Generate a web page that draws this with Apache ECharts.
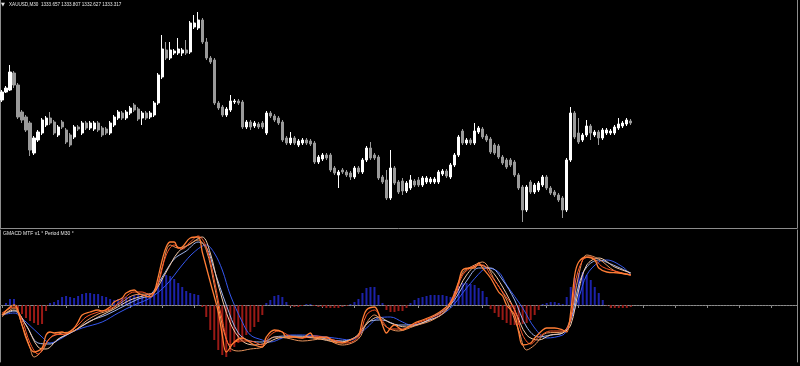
<!DOCTYPE html>
<html><head><meta charset="utf-8">
<script src="https://cdn.jsdelivr.net/npm/echarts@6/dist/echarts.min.js"></script>
<style>html,body{margin:0;padding:0;background:#000;}#c{width:800px;height:366px;}</style>
</head><body><div id="c"></div>
<script>
const SLOTS = 199;
const categories = [];
for (let i = 0; i < SLOTS; i++) categories.push(String(i));

const opens = [
1335.5,1336.3,1336.5,1338.2,1337.0,1334.3,1333.8,1333.2,1330.2,1331.5,
1332.2,1333.0,1333.7,1333.3,1332.0,1333.3,1332.5,1332.0,1331.8,1332.8,
1332.2,1333.2,1332.7,1332.6,1333.2,1332.7,1332.6,1332.2,1333.0,1333.7,
1334.2,1333.7,1334.2,1335.0,1334.6,1333.7,1334.2,1333.8,1334.0,1335.2,
1337.8,1340.5,1339.7,1340.2,1340.2,1340.2,1340.5,1340.3,1342.8,1342.7,
1343.5,1341.3,1339.7,1339.5,1335.2,1334.8,1334.0,1334.5,1335.3,1335.4,
1335.3,1332.8,1333.3,1332.9,1333.1,1333.2,1332.2,1334.2,1333.9,1333.7,
1333.3,1331.7,1331.2,1331.7,1331.0,1331.2,1331.5,1331.4,1331.2,1329.3,
1329.6,1330.0,1330.0,1328.7,1328.0,1328.5,1328.3,1328.2,1327.8,1328.7,
1328.3,1329.5,1330.7,1330.0,1329.8,1327.8,1327.5,1325.7,1328.7,1327.3,
1327.4,1326.4,1326.7,1327.4,1327.5,1327.0,1327.3,1327.3,1327.3,1327.3,
1328.1,1328.4,1327.8,1329.0,1330.0,1332.4,1331.2,1331.5,1331.2,1332.3,
1332.6,1331.9,1331.6,1331.0,1330.9,1329.8,1329.5,1329.5,1329.3,1328.0,
1326.8,1324.5,1327.3,1326.3,1326.5,1327.0,1327.8,1326.7,1326.3,1326.0,
1325.7,1324.5,1329.5,1334.2,1332.2,1331.5,1332.0,1332.9,1332.0,1332.3,
1331.7,1332.2,1332.2,1332.2,1332.7,1332.9,1333.1,1333.4];
const closes = [
1336.3,1336.7,1338.3,1337.0,1333.8,1333.5,1332.5,1330.5,1331.7,1332.3,
1333.5,1333.7,1333.2,1332.2,1332.8,1332.8,1331.3,1331.0,1332.8,1332.6,
1333.2,1332.7,1333.2,1333.2,1332.5,1332.0,1332.2,1333.2,1333.8,1334.3,
1333.7,1334.3,1334.7,1334.5,1333.6,1334.2,1333.7,1334.2,1335.2,1338.0,
1340.6,1339.7,1340.5,1340.4,1340.6,1340.5,1340.2,1343.2,1343.2,1343.5,
1341.3,1339.7,1339.3,1335.2,1334.7,1334.0,1334.6,1335.4,1335.4,1335.2,
1332.8,1333.3,1332.8,1333.2,1332.8,1332.8,1334.2,1333.9,1333.5,1333.2,
1331.5,1331.2,1331.7,1331.2,1331.4,1331.5,1331.2,1331.1,1329.3,1329.8,
1330.0,1329.7,1328.5,1328.2,1328.3,1328.3,1328.0,1327.8,1328.7,1328.3,
1329.5,1330.7,1329.7,1329.7,1327.7,1327.3,1325.7,1328.7,1327.2,1326.3,
1326.4,1327.2,1327.5,1327.0,1327.0,1327.7,1327.7,1327.6,1327.6,1328.3,
1328.4,1327.9,1329.0,1330.0,1331.8,1331.2,1331.5,1331.2,1332.4,1332.7,
1331.8,1331.5,1330.3,1330.2,1329.8,1329.2,1328.8,1329.0,1328.0,1326.7,
1324.5,1326.8,1326.3,1327.0,1327.2,1327.8,1326.7,1326.2,1326.0,1325.5,
1324.5,1329.5,1334.2,1331.8,1331.3,1332.0,1332.9,1332.2,1332.3,1331.7,
1332.5,1332.5,1332.4,1332.8,1333.1,1333.2,1333.5,1333.2];
const lows = [
1335.3,1336.2,1336.4,1336.7,1333.6,1333.2,1332.3,1329.9,1330.0,1331.3,
1332.0,1332.8,1333.0,1332.0,1331.8,1332.6,1331.1,1330.8,1331.6,1332.4,
1332.0,1332.5,1332.5,1332.4,1332.3,1331.8,1332.0,1332.0,1332.8,1333.5,
1333.5,1333.5,1334.0,1334.3,1333.4,1333.0,1333.5,1333.6,1333.8,1335.0,
1337.6,1339.5,1339.5,1340.0,1340.0,1339.9,1340.0,1340.1,1342.6,1342.5,
1341.1,1339.5,1339.1,1335.0,1334.5,1333.8,1333.8,1334.3,1335.1,1335.0,
1332.6,1332.6,1332.5,1332.7,1332.6,1332.6,1332.0,1333.7,1333.3,1333.0,
1331.3,1331.0,1331.0,1331.0,1330.8,1331.0,1331.0,1330.9,1329.1,1329.1,
1329.4,1329.5,1328.3,1328.0,1326.7,1328.1,1327.8,1327.5,1327.6,1328.1,
1328.1,1329.3,1329.5,1329.5,1327.5,1327.1,1325.5,1325.5,1327.0,1326.1,
1326.0,1326.2,1326.5,1326.8,1326.8,1326.8,1327.1,1327.1,1327.1,1327.1,
1327.9,1327.7,1327.6,1328.8,1329.8,1331.0,1331.0,1331.0,1331.0,1332.1,
1331.6,1331.3,1330.1,1330.0,1329.6,1329.0,1328.6,1328.8,1327.8,1326.5,
1323.3,1324.3,1326.1,1326.1,1326.3,1326.8,1326.5,1326.0,1325.8,1325.3,
1323.7,1324.3,1329.3,1331.6,1331.1,1331.3,1331.8,1331.5,1331.8,1331.0,
1331.5,1332.0,1332.0,1332.0,1332.5,1332.7,1332.9,1333.0];
const highs = [
1336.5,1336.9,1339.0,1338.4,1337.2,1334.5,1334.0,1333.4,1331.9,1332.5,
1333.7,1333.9,1334.3,1333.5,1333.0,1333.5,1332.7,1332.2,1333.0,1333.0,
1333.4,1333.4,1333.4,1333.4,1333.4,1332.9,1332.8,1333.4,1334.0,1334.5,
1334.4,1334.5,1334.9,1335.2,1334.8,1334.4,1334.4,1334.4,1335.4,1338.2,
1342.0,1341.3,1341.3,1340.6,1341.7,1340.7,1341.5,1343.4,1344.0,1344.3,
1343.7,1341.7,1339.9,1339.7,1335.4,1335.0,1334.8,1336.0,1335.6,1335.6,
1335.5,1333.5,1333.5,1333.4,1333.3,1333.4,1334.4,1334.4,1334.1,1333.9,
1333.5,1331.9,1332.3,1331.9,1331.6,1331.7,1331.7,1331.6,1331.4,1330.0,
1330.2,1330.2,1330.2,1328.9,1328.5,1328.7,1328.5,1328.4,1328.9,1328.9,
1329.7,1330.9,1331.3,1330.2,1330.0,1328.0,1328.5,1330.5,1328.9,1327.5,
1327.7,1327.4,1328.0,1327.6,1327.8,1327.9,1327.9,1327.8,1327.8,1328.5,
1328.6,1328.6,1329.2,1330.2,1332.0,1332.6,1331.7,1331.7,1333.2,1332.9,
1332.8,1332.1,1331.8,1331.2,1331.1,1330.0,1329.7,1329.7,1329.5,1328.2,
1327.0,1327.0,1327.5,1327.2,1327.4,1328.0,1328.0,1326.9,1326.5,1326.2,
1325.9,1329.7,1334.8,1334.4,1333.7,1332.2,1333.5,1333.1,1332.5,1332.5,
1332.7,1332.7,1332.6,1333.0,1333.7,1333.4,1333.7,1333.6];

const histogram = [
0,0.2,0.6,0.6,-0.5,-0.9,-1.3,-1.6,-1.8,-2.0,
-1.9,-0.6,0.2,0.3,0.5,0.8,0.9,0.8,0.7,0.9,
1.1,1.2,1.2,1.1,1.1,0.9,0.8,0.6,0.5,0.6,
0.7,0.8,0.9,1.0,1.0,1.1,1.0,0.9,1.2,2.0,
2.7,3.0,2.9,2.6,2.2,1.8,1.4,1.2,1.1,1.0,
-0.2,-1.2,-2.5,-3.5,-4.5,-5.0,-5.2,-4.7,-4.2,-3.8,
-3.5,-3.0,-2.7,-2.2,-1.7,-1.0,0.2,0.5,0.9,1.0,
0.8,0.3,-0.1,-0.2,-0.2,-0.1,0.1,0.1,-0.1,-0.2,
-0.2,-0.3,-0.3,-0.3,-0.3,-0.2,-0.1,0.1,0.3,0.6,
1.2,1.7,1.8,1.8,1.0,0.2,-0.5,-0.7,-0.7,-0.6,
-0.6,-0.3,0.2,0.5,0.7,0.8,0.9,1.0,1.0,1.0,
1.0,0.9,0.8,1.4,1.9,2.2,2.2,2.1,2.0,1.7,
1.4,0.8,-0.4,-0.8,-1.2,-1.5,-1.8,-2.0,-2.0,-2.0,
-1.9,-1.8,-1.5,-1.0,-0.5,0.1,0.2,0.3,0.3,0.2,
0.1,0.8,1.8,2.7,3.2,3.3,3.0,2.5,1.8,1.2,
0.5,-0.1,-0.3,-0.3,-0.3,-0.3,-0.3,-0.2];

// MTF MACD lines: [bar index, value]
const lineOrange = [[0,-1.0],[3,0.0],[5,-2.0],[6,-3.3],[8,-4.7],[10,-4.3],[11,-3.0],[12,-2.7],[13,-2.8],[15,-2.7],[16,-2.8],[18,-2.3],[19,-1.7],[20,-1.0],[22,-0.7],[24,-0.5],[25,-0.6],[27,-0.2],[28,0.3],[30,0.7],[31,1.2],[33,1.5],[34,1.2],[35,1.0],[37,0.8],[38,1.3],[39,2.8],[40,4.5],[41,5.8],[42,6.3],[43,6.3],[44,5.7],[45,5.8],[47,6.7],[49,6.8],[50,5.3],[52,2.3],[54,-0.7],[55,-3.0],[56,-4.7],[58,-3.7],[60,-3.3],[61,-3.5],[63,-4.0],[65,-4.2],[66,-3.2],[68,-2.5],[70,-2.7],[71,-3.2],[73,-3.2],[75,-3.3],[77,-2.8],[78,-3.3],[81,-3.2],[83,-3.7],[85,-3.8],[87,-3.5],[89,-3.0],[90,-1.5],[91,-0.5],[93,-0.2],[94,-0.8],[95,-2.0],[96,-2.8],[97,-2.3],[98,-2.0],[100,-2.5],[101,-2.3],[103,-1.8],[105,-1.5],[108,-1.0],[110,-0.5],[112,0.3],[114,2.3],[115,3.5],[117,3.7],[118,3.7],[119,4.2],[120,3.7],[122,2.7],[124,1.3],[125,0.9],[126,0.0],[128,-1.0],[129,-2.7],[130,-4.0],[132,-3.8],[133,-3.3],[135,-2.5],[136,-2.3],[138,-2.3],[140,-2.5],[141,-2.7],[142,-0.7],[143,3.0],[144,4.3],[146,4.8],[148,4.5],[149,3.7],[151,3.3],[154,3.2],[157,3.0]];
const lineRed = [[0,-0.8],[3,-0.2],[5,-1.5],[7,-3.8],[9,-4.9],[11,-3.8],[13,-3.0],[16,-2.9],[19,-2.0],[21,-1.2],[24,-0.7],[27,-0.4],[30,0.5],[33,1.3],[35,1.3],[37,1.0],[39,2.2],[41,5.0],[43,6.0],[45,5.6],[47,6.3],[49,6.9],[51,5.8],[53,2.5],[55,-1.5],[57,-4.0],[59,-3.6],[62,-3.6],[65,-4.0],[67,-3.0],[69,-2.6],[72,-3.1],[75,-3.3],[78,-3.1],[82,-3.4],[86,-3.8],[89,-3.2],[91,-1.0],[93,-0.5],[95,-1.6],[97,-2.4],[100,-2.4],[103,-1.9],[107,-1.3],[110,-0.7],[113,0.8],[115,3.0],[118,3.9],[120,4.0],[122,3.0],[125,1.3],[128,-0.5],[130,-3.0],[132,-3.9],[134,-3.2],[137,-2.6],[140,-2.6],[142,-1.5],[143,2.0],[145,4.5],[147,4.8],[150,3.8],[154,3.3],[157,3.0]];
const lineTan = [[0,-1.2],[3,-0.3],[5,-2.0],[7,-4.3],[8,-5.2],[10,-4.6],[12,-3.3],[15,-2.8],[18,-2.6],[21,-1.6],[24,-0.9],[27,-0.5],[30,0.3],[33,1.0],[36,1.1],[38,1.2],[40,3.8],[42,6.0],[44,5.7],[46,5.9],[49,6.5],[51,5.5],[53,2.0],[55,-2.0],[57,-4.3],[59,-4.6],[62,-4.4],[65,-4.2],[68,-3.2],[71,-3.3],[75,-3.6],[80,-3.4],[85,-4.0],[89,-3.4],[91,-1.8],[93,-1.0],[96,-2.2],[99,-2.6],[103,-2.1],[108,-1.4],[112,0.0],[115,3.2],[118,4.0],[120,4.3],[123,2.5],[126,0.5],[129,-2.5],[131,-4.5],[133,-4.0],[136,-2.8],[140,-2.7],[142,-1.2],[144,3.0],[146,5.0],[149,4.6],[153,3.4],[157,3.0]];
const linePale = [[0,-1.0],[3,-0.5],[6,-2.0],[9,-4.2],[11,-4.4],[14,-3.4],[17,-2.8],[20,-2.1],[24,-1.2],[28,-0.4],[32,0.5],[36,1.0],[38,1.3],[41,3.3],[44,5.3],[47,6.1],[50,6.8],[52,5.2],[54,2.0],[57,-1.8],[60,-3.6],[63,-4.0],[66,-3.8],[69,-3.3],[73,-3.2],[78,-3.3],[84,-3.7],[88,-3.3],[91,-1.9],[94,-1.2],[97,-1.8],[101,-2.2],[106,-1.6],[110,-0.9],[113,0.8],[116,3.0],[119,4.0],[122,3.5],[125,1.8],[128,-0.5],[131,-3.0],[134,-3.5],[137,-3.0],[140,-2.8],[142,-2.0],[144,1.5],[146,4.0],[149,4.7],[153,3.8],[157,3.2]];
const lineLightBlue = [[0,-1.0],[3,-0.6],[6,-2.0],[9,-3.8],[12,-3.9],[15,-3.2],[18,-2.6],[22,-1.6],[26,-1.0],[30,-0.2],[34,0.6],[37,1.0],[40,2.8],[43,4.6],[46,5.4],[49,6.3],[51,5.8],[53,3.5],[56,0.0],[59,-2.8],[62,-3.6],[65,-3.7],[68,-3.2],[72,-3.1],[78,-3.2],[85,-3.6],[89,-3.0],[92,-1.6],[95,-1.5],[99,-2.0],[103,-2.0],[108,-1.1],[112,0.0],[116,2.4],[119,3.7],[122,3.7],[125,2.5],[128,0.5],[131,-2.2],[134,-3.2],[137,-3.0],[140,-2.8],[142,-1.5],[144,2.0],[146,3.8],[149,4.5],[152,4.1],[157,3.2]];
const lineBlue = [[0,-1.0],[3,-0.8],[6,-1.7],[10,-3.2],[12,-3.8],[15,-3.3],[17,-2.8],[20,-2.3],[25,-1.7],[29,-0.8],[33,0.0],[37,0.7],[41,2.0],[45,4.0],[48,5.3],[51,6.0],[53,5.2],[55,3.5],[57,1.0],[60,-1.7],[62,-3.0],[65,-3.5],[67,-3.7],[70,-3.3],[72,-3.0],[75,-3.0],[83,-3.3],[87,-3.5],[91,-2.3],[94,-1.3],[97,-1.2],[100,-1.7],[102,-2.0],[108,-1.3],[112,-0.3],[116,1.7],[120,3.5],[121,3.7],[124,3.3],[126,2.0],[130,-0.3],[133,-2.3],[136,-3.3],[140,-3.0],[141,-2.5],[144,0.7],[146,3.0],[149,4.3],[151,4.5],[155,3.8],[157,3.0]];

const priceTitle = 'XAUUSD,M30  1333.657 1333.807 1332.627 1333.317';
const indTitle = 'GMACD MTF v1 \u00b0 Period M30 \u00b0';

const candles = opens.map((o, i) => [o, closes[i], lows[i], highs[i]]);
const border = '#8c8c8c';

function lineSeries(data, color, width) {
  return { type: 'line', xAxisIndex: 1, yAxisIndex: 2, data: data, smooth: 0.35,
    showSymbol: false, symbol: 'none', silent: true,
    lineStyle: { color: color, width: width } };
}

const chart = echarts.init(document.getElementById('c'), null, { renderer: 'canvas' });
chart.setOption({
  backgroundColor: '#000000',
  animation: false,
  grid: [
    { left: 0, width: 797, top: 0, height: 228 },
    { left: 0, width: 797, top: 230, height: 132 }
  ],
  xAxis: [
    { type: 'category', gridIndex: 0, data: categories, axisLine: { show: true, lineStyle: { color: border } },
      axisTick: { show: false }, axisLabel: { show: false }, splitLine: { show: false } },
    { type: 'category', gridIndex: 1, data: categories, axisLine: { show: true, lineStyle: { color: border } },
      axisTick: { show: true, interval: 7, alignWithLabel: true, length: 3, lineStyle: { color: border } },
      axisLabel: { show: false }, splitLine: { show: false } }
  ],
  yAxis: [
    { type: 'value', gridIndex: 0, min: 1322.7, max: 1345.5, position: 'left', axisLine: { show: true, lineStyle: { color: border } }, axisTick: { show: false }, axisLabel: { show: false }, splitLine: { show: false } },
    { type: 'value', gridIndex: 0, min: 1322.7, max: 1345.5, position: 'right', axisLine: { show: true, lineStyle: { color: border } }, axisTick: { show: false }, axisLabel: { show: false }, splitLine: { show: false } },
    { type: 'value', gridIndex: 1, min: -5.7, max: 7.5, position: 'left', axisLine: { show: true, lineStyle: { color: border } }, axisTick: { show: false }, axisLabel: { show: false }, splitLine: { show: false } },
    { type: 'value', gridIndex: 1, min: -5.7, max: 7.5, position: 'right', axisLine: { show: true, lineStyle: { color: border } }, axisTick: { show: false }, axisLabel: { show: false }, splitLine: { show: false } }
  ],
  series: [
    { type: 'candlestick', xAxisIndex: 0, yAxisIndex: 0, data: candles, barWidth: 2.6, silent: true,
      itemStyle: { color: '#ffffff', color0: '#9a9a9a', borderColor: '#ffffff', borderColor0: '#9a9a9a', borderWidth: 1 } },
    { type: 'bar', xAxisIndex: 1, yAxisIndex: 2, data: histogram, barWidth: 2, silent: true,
      itemStyle: { color: p => (p.value >= 0 ? '#1c22a8' : '#9a1a16') },
      markLine: { silent: true, symbol: 'none', label: { show: false },
        lineStyle: { color: '#6e6e6e', type: [1, 2], width: 1 }, data: [{ yAxis: 0 }] } },
    lineSeries(lineBlue, '#3558f0', 1),
    lineSeries(lineLightBlue, '#9fb4ee', 1),
    lineSeries(linePale, '#f2c9a8', 1),
    lineSeries(lineTan, '#e8945c', 1),
    lineSeries(lineRed, '#ff5526', 1),
    lineSeries(lineOrange, '#ff7d35', 1.3)
  ],
  graphic: [
    { type: 'text', left: 1, top: 2, silent: true, style: { text: '\u25bc', fill: '#e6e6e6', font: '5px "DejaVu Sans"' } },
    { type: 'text', left: 9, top: 2, silent: true, style: { text: priceTitle, fill: '#e6e6e6', font: '4.6px "Liberation Sans"' } },
    { type: 'text', left: 3, top: 231, silent: true, style: { text: indTitle, fill: '#e6e6e6', font: '5px "Liberation Sans"' } }
  ]
});
</script></body></html>
